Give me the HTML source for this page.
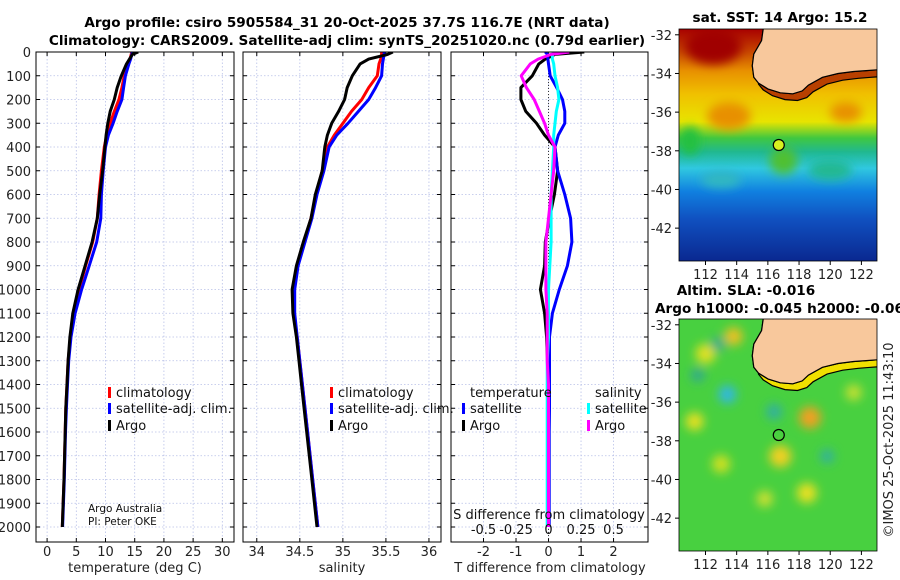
<!DOCTYPE html>
<html><head><meta charset="utf-8">
<style>
html,body{margin:0;padding:0;background:#fff;}
svg{display:block;font-family:"DejaVu Sans","Liberation Sans",sans-serif;}
</style></head>
<body>
<svg id="c" width="900" height="580" viewBox="0 0 900 580" xmlns="http://www.w3.org/2000/svg">
<defs>
<linearGradient id="sstg" x1="0" y1="0" x2="0" y2="1">
<stop offset="0" stop-color="#a80000"/>
<stop offset="0.1" stop-color="#c84800"/>
<stop offset="0.18" stop-color="#e89000"/>
<stop offset="0.28" stop-color="#f0c000"/>
<stop offset="0.4" stop-color="#e8e400"/>
<stop offset="0.47" stop-color="#40c840"/>
<stop offset="0.53" stop-color="#20b890"/>
<stop offset="0.6" stop-color="#30c8e0"/>
<stop offset="0.7" stop-color="#1080e0"/>
<stop offset="0.82" stop-color="#1050c0"/>
<stop offset="1" stop-color="#0a2890"/>
</linearGradient>
<clipPath id="m1c"><rect x="679" y="29" width="198" height="232"/></clipPath>
<clipPath id="m2c"><rect x="679" y="319" width="198" height="232"/></clipPath>
<clipPath id="p1c"><rect x="36" y="52" width="198" height="490"/></clipPath>
<clipPath id="p2c"><rect x="243" y="52" width="198" height="490"/></clipPath>
<clipPath id="p3c"><rect x="451" y="52" width="197" height="490"/></clipPath>
<filter id="blur"><feGaussianBlur stdDeviation="5"/></filter>
</defs>
<g font-weight="bold" font-size="13.6" text-anchor="middle" fill="#000">
<text x="347" y="27">Argo profile: csiro 5905584_31 20-Oct-2025 37.7S 116.7E (NRT data)</text>
<text x="347" y="45">Climatology: CARS2009. Satellite-adj clim: synTS_20251020.nc (0.79d earlier)</text>
<text x="780" y="22">sat. SST: 14 Argo: 15.2</text>
<text x="746" y="295">Altim. SLA: -0.016</text>
<text x="655" y="313" text-anchor="start">Argo h1000: -0.045 h2000: -0.063</text>
</g>
<g id="panels"></g>
<g id="maps"></g>
<text transform="translate(893,440) rotate(-90)" text-anchor="middle" font-size="13" fill="#222">©IMOS 25-Oct-2025 11:43:10</text>
</svg>
<script>
const depths   = [0,10,30,50,100,150,200,250,300,350,400,500,600,700,800,900,1000,1100,1200,1300,1400,1500,1600,1800,2000];
const tempClim = [14.5,14.4,14.2,13.9,13.2,12.8,12.3,11.5,10.8,10.2,9.8,9.3,8.9,8.6,7.8,6.6,5.5,4.6,4.0,3.6,3.4,3.2,3.1,2.9,2.6];
const tempSat  = [14.6,14.5,14.3,14.0,13.4,13.1,12.8,12.0,11.3,10.5,10.0,9.6,9.3,9.2,8.5,7.2,5.9,4.8,4.1,3.7,3.5,3.3,3.15,2.95,2.65];
const tempArgo = [15.6,14.6,14.1,13.6,12.7,12.0,11.5,10.8,10.4,10.1,9.9,9.5,9.0,8.6,7.7,6.5,5.3,4.4,3.9,3.6,3.4,3.2,3.1,2.9,2.6];
const salClim  = [35.45,35.45,35.44,35.42,35.40,35.30,35.22,35.10,35.00,34.90,34.82,34.76,34.69,34.63,34.55,34.47,34.43,34.43,34.47,34.50,34.53,34.56,34.59,34.65,34.71];
const salSat   = [35.48,35.48,35.47,35.46,35.45,35.38,35.30,35.18,35.06,34.93,34.84,34.78,34.70,34.64,34.56,34.48,34.44,34.44,34.47,34.50,34.53,34.56,34.59,34.65,34.71];
const salArgo  = [35.58,35.52,35.30,35.20,35.11,35.05,35.02,34.95,34.87,34.82,34.79,34.76,34.68,34.63,34.54,34.46,34.41,34.42,34.46,34.49,34.52,34.55,34.58,34.64,34.70];
const tDiffArgo= [1.1,0.2,-0.1,-0.3,-0.5,-0.85,-0.85,-0.7,-0.37,-0.12,0.2,0.28,0.18,0.03,-0.1,-0.12,-0.25,-0.12,-0.06,-0.03,-0.02,-0.02,-0.01,-0.01,0];
const tDiffSat = [-0.1,-0.03,-0.02,0.0,0.05,0.25,0.43,0.5,0.5,0.3,0.2,0.28,0.5,0.68,0.72,0.58,0.33,0.12,0.03,0.03,0.03,0.03,0.02,0.02,0.02];
const sDiffSat = [0.05,0.03,0.03,0.04,0.05,0.07,0.08,0.06,0.05,0.04,0.04,0.03,0.02,0.02,0.02,0.01,0.0,0.0,0.0,-0.01,-0.01,-0.01,-0.01,-0.01,-0.01];
const sDiffArgo= [0.16,0.02,-0.08,-0.14,-0.21,-0.17,-0.11,-0.07,-0.03,0.0,0.05,0.04,0.02,0.0,-0.02,-0.02,-0.02,-0.01,-0.01,-0.01,0,0,0,0,0];
const depthTicks = [0,100,200,300,400,500,600,700,800,900,1000,1100,1200,1300,1400,1500,1600,1700,1800,1900,2000];
const tTicks = [0,5,10,15,20,25,30];
const sTicks = [34,34.5,35,35.5,36];
const tdTicks = [-2,-1,0,1,2];
const sdTicks = [-0.5,-0.25,0,0.25,0.5];
const sdLabels = ["-0.5","-0.25","0","0.25","0.5"];

const NS='http://www.w3.org/2000/svg';
function mk(tag,attrs,parent,txt){const e=document.createElementNS(NS,tag);for(const k in attrs)e.setAttribute(k,attrs[k]);if(txt!==undefined)e.textContent=txt;parent.appendChild(e);return e;}
const Y0=52,Y1=542;
function yD(d){return 52+d*0.2375;}
const panels=[
 {x0:36,x1:234,min:-1.9,max:32,ticks:tTicks,clip:'p1c',name:'temperature-panel'},
 {x0:243,x1:441,min:33.84,max:36.14,ticks:sTicks,clip:'p2c',name:'salinity-panel'},
 {x0:451,x1:648,min:-3.0,max:3.06,ticks:tdTicks,clip:'p3c',name:'difference-panel'}];
function xf(p){return v=>p.x0+(v-p.min)/(p.max-p.min)*(p.x1-p.x0);}
const G=document.getElementById('panels');
panels.forEach((p,i)=>{
  const g=mk('g',{},G);
  
  
  const X=xf(p);
  const grid=mk('g',{stroke:'#b8c0e8','stroke-width':'0.8','stroke-dasharray':'1.5,2'},g);
  
  
  p.ticks.forEach(t=>{mk('line',{x1:X(t),x2:X(t),y1:Y0,y2:Y1},grid);});
  depthTicks.forEach(d=>{mk('line',{x1:p.x0,x2:p.x1,y1:yD(d),y2:yD(d)},grid);});
  const tk=mk('g',{stroke:'#000','stroke-width':'1'},g);
  depthTicks.forEach(d=>{mk('line',{x1:p.x0,x2:p.x0+4,y1:yD(d),y2:yD(d)},tk);mk('line',{x1:p.x1,x2:p.x1-4,y1:yD(d),y2:yD(d)},tk);});
  p.ticks.forEach(t=>{mk('line',{x1:X(t),x2:X(t),y1:Y1,y2:Y1-4},tk);mk('line',{x1:X(t),x2:X(t),y1:Y0,y2:Y0+4},tk);});
  p.ticks.forEach((t,j)=>{const lb=mk('text',{x:X(t),y:556,'font-size':'13','text-anchor':'middle',fill:'#222'},g,String(t));
    
    });
});
const yl=mk('g',{'font-size':'13','text-anchor':'end',fill:'#222'},G);


depthTicks.forEach(d=>mk('text',{x:31,y:yD(d)+5},yl,String(d)));
[[135,'temperature (deg C)','temperature-axis-title'],[342,'salinity','salinity-axis-title'],[550,'T difference from climatology','t-diff-axis-title']].forEach(a=>{
  const t=mk('text',{x:a[0],y:572,'font-size':'13','text-anchor':'middle',fill:'#222'},G,a[1]);
  
  });
const X3=xf(panels[2]);
mk('line',{x1:X3(0),x2:X3(0),y1:Y0,y2:Y1,stroke:'#333','stroke-width':'1','stroke-dasharray':'1,2'},G);
function line(vals,X,color,clip,name){
  const pts=vals.map((v,i)=>X(v).toFixed(1)+','+yD(depths[i]).toFixed(1)).join(' ');
  const l=mk('polyline',{points:pts,fill:'none',stroke:color,'stroke-width':'3','stroke-linejoin':'round','clip-path':'url(#'+clip+')'},G);
  
  
}
const X1=xf(panels[0]),X2=xf(panels[1]);
const SX=v=>X3(0)+v*130;
line(tempClim,X1,'#ff0000','p1c','temp-climatology-line');
line(tempSat,X1,'#0000ff','p1c','temp-satellite-line');
line(tempArgo,X1,'#000','p1c','temp-argo-line');
line(salClim,X2,'#ff0000','p2c','sal-climatology-line');
line(salSat,X2,'#0000ff','p2c','sal-satellite-line');
line(salArgo,X2,'#000','p2c','sal-argo-line');
line(tDiffArgo,X3,'#000','p3c','t-diff-argo-line');
line(tDiffSat,X3,'#0000ff','p3c','t-diff-satellite-line');
line(sDiffSat,SX,'#00ffff','p3c','s-diff-satellite-line');
line(sDiffArgo,SX,'#ff00ff','p3c','s-diff-argo-line');
panels.forEach(p=>mk('rect',{x:p.x0,y:Y0,width:p.x1-p.x0,height:Y1-Y0,fill:'none',stroke:'#000','stroke-width':'1'},G));
const sd=mk('g',{'font-size':'13','text-anchor':'middle',fill:'#111'},G);


mk('text',{x:549,y:519},sd,'S difference from climatology');
sdTicks.forEach((t,i)=>mk('text',{x:SX(t),y:534},sd,sdLabels[i]));
function leg(x,y,color,label,name){
  const g=mk('g',{},G);
  
  
  mk('rect',{x:x,y:y-10,width:3,height:11,fill:color},g);
  mk('text',{x:x+8,y:y,'font-size':'13',fill:'#111'},g,label);
}
leg(108,397,'#ff0000','climatology','legend-temp-climatology');
leg(108,413,'#0000ff','satellite-adj. clim.','legend-temp-satellite');
leg(108,430,'#000','Argo','legend-temp-argo');
leg(330,397,'#ff0000','climatology','legend-sal-climatology');
leg(330,413,'#0000ff','satellite-adj. clim.','legend-sal-satellite');
leg(330,430,'#000','Argo','legend-sal-argo');
mk('text',{x:470,y:397,'font-size':'13',fill:'#111'},G,'temperature');
mk('text',{x:595,y:397,'font-size':'13',fill:'#111'},G,'salinity');
leg(462,413,'#0000ff','satellite','legend-tdiff-satellite');
leg(462,430,'#000','Argo','legend-tdiff-argo');
leg(587,413,'#00ffff','satellite','legend-sdiff-satellite');
leg(587,430,'#ff00ff','Argo','legend-sdiff-argo');
mk('text',{x:88,y:512,'font-size':'10.5',fill:'#111'},G,'Argo Australia');
mk('text',{x:88,y:525,'font-size':'10.5',fill:'#111'},G,'PI: Peter OKE');

const M=document.getElementById('maps');
const lonTicks=[112,114,116,118,120,122], latTicks=[-32,-34,-36,-38,-40,-42];
const coastLon=[115.7,115.6,115.1,115.0,115.1,115.4,116.0,116.8,117.6,118.2,118.6,119.5,120.5,121.5,122.3,123.2];
const coastLat=[-31.7,-32.3,-33.0,-33.6,-34.2,-34.5,-34.8,-35.0,-35.05,-34.9,-34.6,-34.2,-34.0,-33.9,-33.85,-33.8];
function mapAxes(y0){
  const LX=v=>679+(v-110.3)/(123.0-110.3)*198;
  const LY=v=>y0+(-31.7-v)/(43.7-31.7)*232;
  return [LX,LY];
}
function drawMap(y0,clip,name,isSST){
  const g=mk('g',{'clip-path':'url(#'+clip+')'},M);
  
  
  const [LX,LY]=mapAxes(y0);
  if(isSST){
    mk('rect',{x:679,y:y0,width:198,height:232,fill:'url(#sstg)'},g);
    const b=mk('g',{filter:'url(#blur)'},g);
    mk('ellipse',{cx:LX(112.5),cy:LY(-32.6),rx:28,ry:18,fill:'#a00000'},b);
    mk('ellipse',{cx:LX(113.5),cy:LY(-36.2),rx:22,ry:14,fill:'#e89000'},b);
    mk('ellipse',{cx:LX(117),cy:LY(-38.5),rx:14,ry:14,fill:'#50c030'},b);
    mk('ellipse',{cx:LX(121),cy:LY(-36),rx:16,ry:10,fill:'#e89000'},b);
    mk('ellipse',{cx:LX(111),cy:LY(-37.5),rx:10,ry:14,fill:'#20c040'},b);
    mk('ellipse',{cx:LX(113),cy:LY(-39.5),rx:20,ry:8,fill:'#30b8c0'},b);
    mk('ellipse',{cx:LX(120),cy:LY(-39),rx:22,ry:10,fill:'#20b890'},b);
  } else {
    mk('rect',{x:679,y:y0,width:198,height:232,fill:'#48d040'},g);
    const b=mk('g',{filter:'url(#blur)'},g);
    [[113.8,-32.6,'#f0c020',9],[112,-33.5,'#e0e020',10],[111.3,-37,'#e8e020',9],[118.7,-36.8,'#f0a020',11],[116.8,-38.8,'#f0d020',11],[118.5,-40.7,'#e8e020',10],[113,-39.2,'#d0e020',9],[115.8,-41,'#d0e030',8],[121.5,-35.5,'#c8e030',8]].forEach(e=>mk('circle',{cx:LX(e[0]),cy:LY(e[1]),r:e[3],fill:e[2]},b));
    [[113.4,-35.6,'#30b8e0',9],[116.4,-36.5,'#30b0a0',8],[112.8,-33.0,'#30a890',7],[111.5,-34.6,'#30a890',7],[119.8,-38.8,'#30b0a0',7]].forEach(e=>mk('circle',{cx:LX(e[0]),cy:LY(e[1]),r:e[3],fill:e[2]},b));
  }
  const cpts=coastLon.map((v,i)=>LX(v).toFixed(1)+','+LY(coastLat[i]).toFixed(1));
  const band=coastLon.map((v,i)=>LX(v+0.3).toFixed(1)+','+LY(coastLat[i]-0.35).toFixed(1));
  mk('polygon',{points:band.concat([LX(124)+','+(y0-5)]).join(' ')+' '+cpts.slice().reverse().join(' '),fill:isSST?'#b84000':'#f0e000',stroke:'#000','stroke-width':'1.2'},g);
  mk('polygon',{points:cpts.join(' ')+' '+LX(124)+','+LY(-33.8)+' '+LX(124)+','+(y0-5)+' '+LX(115.7)+','+(y0-5),fill:'#f8c89c',stroke:'#000','stroke-width':'1.2'},g);
  const pt=mk('circle',{cx:LX(116.7),cy:LY(-37.7),r:5.5,fill:isSST?'#d8f020':'none',stroke:'#000','stroke-width':'1.2'},g);
  
  
  mk('rect',{x:679,y:y0,width:198,height:232,fill:'none',stroke:'#000','stroke-width':'0.8'},M);
  const ax=mk('g',{'font-size':'13',fill:'#222'},M);
  
  
  lonTicks.forEach(v=>{mk('text',{x:LX(v),y:y0+250,'text-anchor':'middle'},ax,String(v));
    mk('line',{x1:LX(v),x2:LX(v),y1:y0+232,y2:y0+236,stroke:'#000'},ax);});
  latTicks.forEach(v=>{mk('text',{x:672,y:LY(v)+5,'text-anchor':'end'},ax,String(v));
    mk('line',{x1:675,x2:679,y1:LY(v),y2:LY(v),stroke:'#000'},ax);});
}
drawMap(29,'m1c','sst-map',true);
drawMap(319,'m2c','sla-map',false);
</script>
</body></html>
